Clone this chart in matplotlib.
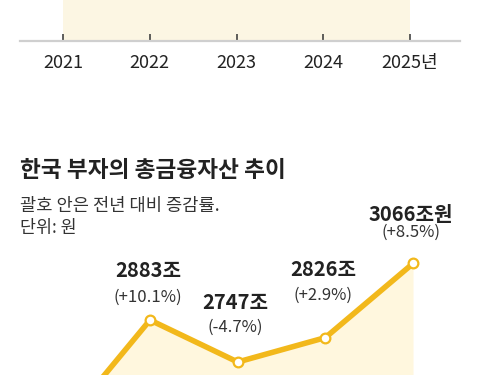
import numpy as np
import matplotlib.pyplot as plt

plt.rcParams['font.family'] = ['Noto Sans CJK KR', 'DejaVu Sans']

# top strip (tail of previous chart)
top_years = [2021, 2022, 2023, 2024, 2025]
top_labels = ['2021', '2022', '2023', '2024', '2025년']

# 한국 부자의 총금융자산 (조원)
years = [2021, 2022, 2023, 2024, 2025]
assets = [2540, 2883, 2747, 2826, 3066]
value_labels = [None, '2883조', '2747조', '2826조', '3066조원']
change_labels = [None, '(+10.1%)', '(-4.7%)', '(+2.9%)', '(+8.5%)']

W, H = 480, 375
fig = plt.figure(figsize=(W / 100, H / 100), dpi=100)
txt = '#222222'
gold = '#F2B81B'


def box(x0, y0, x1, y1):
    # pixel box (top-left origin) -> figure fraction rect
    return [x0 / W, 1 - y1 / H, (x1 - x0) / W, (y1 - y0) / H]


# ---- top strip ----
ax0 = fig.add_axes(box(20, 0, 460, 41))
ax0.set_xlim(2020.504, 2025.576)
ax0.set_ylim(0, 1)
ax0.axvspan(2021, 2025, color='#FCF6E3', lw=0)
for s in ['top', 'left', 'right']:
    ax0.spines[s].set_visible(False)
ax0.spines['bottom'].set_color('#CFCFCF')
ax0.spines['bottom'].set_linewidth(1.6)
ax0.set_yticks([])
ax0.set_xticks(top_years)
ax0.set_xticklabels(top_labels, fontsize=13, color=txt)
ax0.tick_params(axis='x', direction='in', length=5, width=1.1, color='#333333', pad=9.5)

# ---- titles ----
fig.text(20 / W, 1 - 171 / H, '한국 부자의 총금융자산 추이', fontsize=16.3, fontweight='bold',
         color=txt, va='center', ha='left')
fig.text(20 / W, 1 - 206 / H, '괄호 안은 전년 대비 증감률.', fontsize=12.7,
         color='#333333', va='center', ha='left')
fig.text(20 / W, 1 - 228 / H, '단위: 원', fontsize=12.5,
         color='#333333', va='center', ha='left')

# ---- line chart ----
ax = fig.add_axes(box(0, 240, 480, 375))
ax.set_xlim(2020.289, 2025.764)
ax.set_ylim(2705, 3142)
ax.axis('off')
ax.fill_between(years, assets, 2000, color='#FFF7DE', lw=0, zorder=1)
ax.plot(years, assets, color=gold, lw=4, zorder=2, solid_joinstyle='round')
ax.plot(years, assets, 'o', ms=7, mfc='white', mec=gold, mew=1.6, zorder=3)

val_dy = [0, -50, -60, -68, -49]
pct_dy = [0, -23, -35, -42, -31]
for i, (x, y) in enumerate(zip(years, assets)):
    if value_labels[i] is None:
        continue
    ax.annotate(value_labels[i], (x, y), xytext=(-2 * 0.72, -val_dy[i] * 0.72),
                textcoords='offset points', ha='center', va='center',
                fontsize=14.5, fontweight='bold', color=txt, annotation_clip=False)
    ax.annotate(change_labels[i], (x, y), xytext=(-2 * 0.72, -pct_dy[i] * 0.72),
                textcoords='offset points', ha='center', va='center',
                fontsize=12, color='#333333', annotation_clip=False)

fig.savefig('out.png', dpi=100)
